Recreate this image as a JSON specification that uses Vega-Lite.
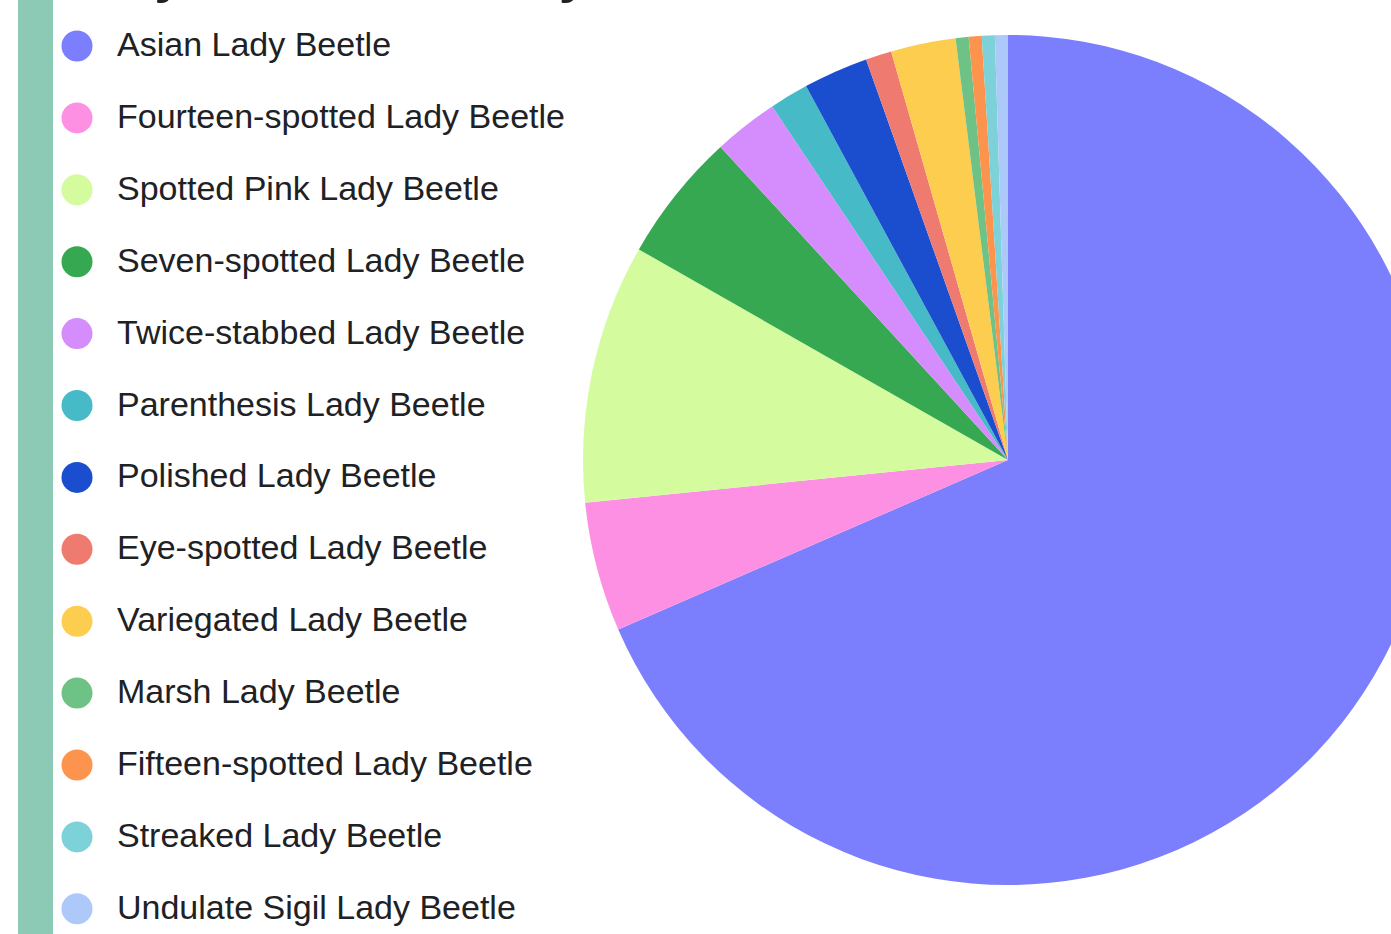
{
  "$schema": "https://vega.github.io/schema/vega-lite/v6.json",
  "autosize": {"type": "none"},
  "padding": {"left": 35.5, "top": -14, "right": -589.5, "bottom": 0},
  "width": 1945,
  "height": 948,
  "background": "white",
  "view": {"stroke": "#8dcab5", "strokeWidth": 35, "strokeDash": [0, 4838, 948]},
  "title": {
    "text": "Lady Beetle Diversity",
    "anchor": "start",
    "frame": "group",
    "font": "Liberation Sans",
    "fontSize": 52,
    "fontWeight": "bold",
    "color": "#202124",
    "baseline": "alphabetic",
    "offset": 0,
    "dx": 26.5,
    "dy": 58
  },
  "data": {
    "values": [
      {"species": "Asian Lady Beetle", "count": 139, "rank": 1},
      {"species": "Fourteen-spotted Lady Beetle", "count": 10, "rank": 2},
      {"species": "Spotted Pink Lady Beetle", "count": 20, "rank": 3},
      {"species": "Seven-spotted Lady Beetle", "count": 10, "rank": 4},
      {"species": "Twice-stabbed Lady Beetle", "count": 5, "rank": 5},
      {"species": "Parenthesis Lady Beetle", "count": 3, "rank": 6},
      {"species": "Polished Lady Beetle", "count": 5, "rank": 7},
      {"species": "Eye-spotted Lady Beetle", "count": 2, "rank": 8},
      {"species": "Variegated Lady Beetle", "count": 5, "rank": 9},
      {"species": "Marsh Lady Beetle", "count": 1, "rank": 10},
      {"species": "Fifteen-spotted Lady Beetle", "count": 1, "rank": 11},
      {"species": "Streaked Lady Beetle", "count": 1, "rank": 12},
      {"species": "Undulate Sigil Lady Beetle", "count": 1, "rank": 13}
    ]
  },
  "mark": {"type": "arc", "outerRadius": 425, "stroke": null},
  "encoding": {
    "theta": {"field": "count", "type": "quantitative", "stack": true},
    "order": {"field": "rank", "type": "quantitative"},
    "color": {
      "field": "species",
      "type": "nominal",
      "sort": null,
      "scale": {
        "domain": ["Asian Lady Beetle", "Fourteen-spotted Lady Beetle", "Spotted Pink Lady Beetle", "Seven-spotted Lady Beetle", "Twice-stabbed Lady Beetle", "Parenthesis Lady Beetle", "Polished Lady Beetle", "Eye-spotted Lady Beetle", "Variegated Lady Beetle", "Marsh Lady Beetle", "Fifteen-spotted Lady Beetle", "Streaked Lady Beetle", "Undulate Sigil Lady Beetle"],
        "range": ["#7b7ffd", "#fd90e2", "#d4fc9f", "#36a852", "#d58cfc", "#46bac6", "#1b4ecf", "#ef7a70", "#fccd4f", "#6fc285", "#fd944e", "#7dd1d9", "#adc9fa"]
      },
      "legend": {
        "orient": "none",
        "legendX": 24.5,
        "legendY": 43,
        "title": null,
        "padding": 0,
        "symbolType": "circle",
        "symbolSize": 962,
        "symbolStrokeWidth": 0,
        "symbolOpacity": 1,
        "labelFont": "Liberation Sans",
        "labelFontSize": 34,
        "labelColor": "#202124",
        "labelOffset": 23,
        "labelLimit": 0,
        "rowPadding": 37.9
      }
    }
  }
}
